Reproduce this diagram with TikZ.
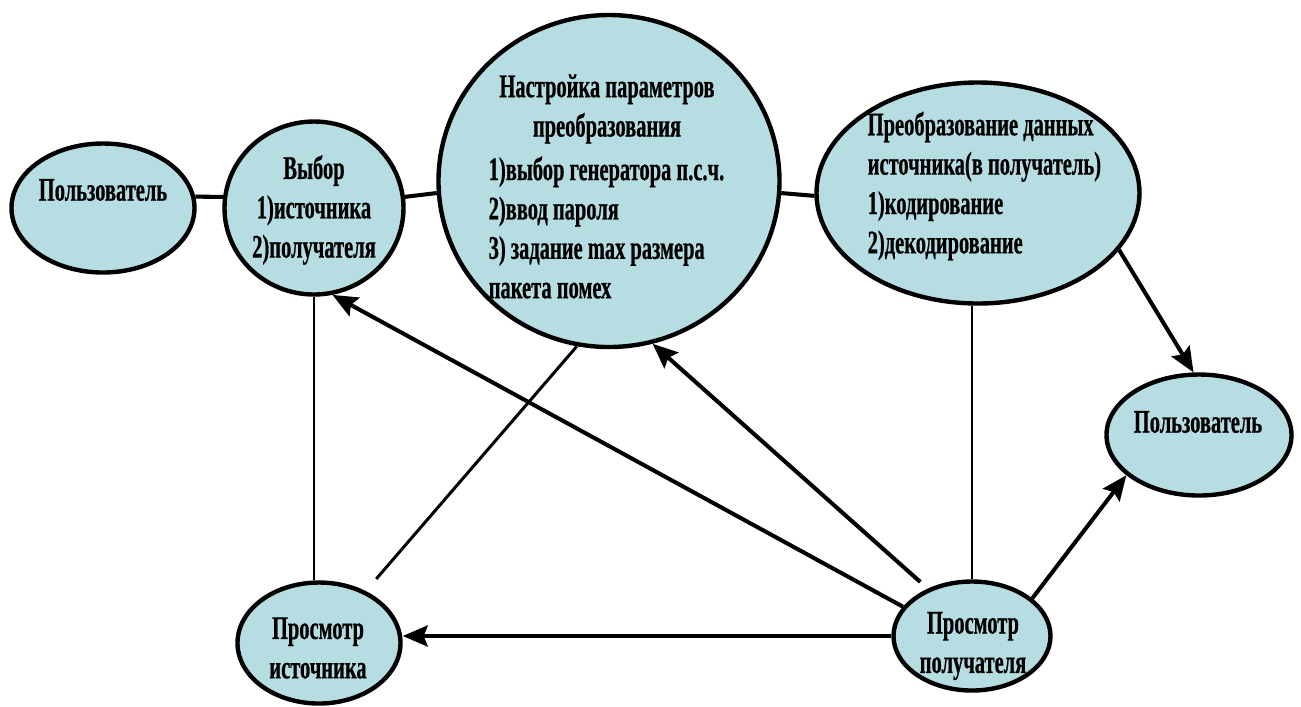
\documentclass[tikz,border=0pt]{standalone}
\usepackage{fontspec}
\setmainfont[FakeStretch=0.62,BoldFeatures={FakeBold=0.6}]{Liberation Serif}
\usepackage{tikz}
\usetikzlibrary{shapes.geometric,arrows.meta}
\definecolor{ovalfill}{RGB}{182,222,226}

\tikzset{
  oval/.style={ellipse, draw=black, line width=1.25pt, fill=ovalfill, inner sep=0pt},
  txt/.style={font=\bfseries\fontsize{9.4}{11.2}\selectfont, align=center, inner sep=0pt},
  thick link/.style={line width=1.15pt},
  mid link/.style={line width=0.85pt},
  thin link/.style={line width=0.6pt},
  arr/.style={line width=1.15pt, -{Stealth[length=0.25cm,width=0.21cm,inset=0.04cm]}}
}

\begin{document}
\begin{tikzpicture}
            \useasboundingbox (0,0) rectangle (13.01,-7.06);

            % Овалы
            \node[oval, minimum width=1.83cm, minimum height=1.29cm] (polz1) at (1.03,-2.08) {};
            \node[oval, minimum width=1.79cm, minimum height=1.73cm] (vybor) at (3.14,-2.08) {};
            \node[oval, minimum width=3.41cm, minimum height=3.32cm] (nastr) at (6.09,-1.81) {};
            \node[oval, minimum width=3.23cm, minimum height=2.21cm] (preobr) at (9.78,-1.93) {};
            \node[oval, minimum width=1.85cm, minimum height=1.21cm] (polz2) at (11.99,-4.35) {};
            \node[oval, minimum width=1.63cm, minimum height=1.21cm] (prosmIst) at (3.19,-6.43) {};
            \node[oval, minimum width=1.57cm, minimum height=1.09cm] (prosmPol) at (9.72,-6.36) {};

            % Подписи в овалах
            \node[txt] (tPolz1) at (1.03,-1.90) {Пользователь};
            \node[txt] (tVybor) at (3.14,-2.10) {Выбор\\1)источника\\2)получателя};
            \node[txt] (tNastr) at (6.07,-1.09) {Настройка параметров\\преобразования};
            \node[txt, align=left, anchor=west] (tNastrList) at (4.88,-2.275)
                {1)выбор генератора п.с.ч.\\2)ввод пароля\\3) задание max размера\\пакета помех};
            \node[txt, align=left, anchor=west] (tPreobr) at (8.67,-1.86)
                {Преобразование данных\\источника(в получатель)\\1)кодирование\\2)декодирование};
            \node[txt] (tPolz2) at (11.98,-4.22) {Пользователь};
            \node[txt] (tProsmIst) at (3.18,-6.48) {Просмотр\\источника};
            \node[txt] (tProsmPol) at (9.73,-6.46) {Просмотр\\получателя};

            % Связи без стрелок
            \draw[thick link] (polz1.7) -- (vybor.173);
            \draw[thick link] (vybor.7) -- (nastr.184.8);
            \draw[thick link] (nastr.-4.8) -- (preobr.181.5);
            \draw[thin link] (vybor.south) -- (vybor.south |- prosmIst.north);
            \draw[thin link] (prosmPol.north) -- (prosmPol.north |- preobr.south);
            \draw[mid link, shorten >=0.16cm] (nastr.-101) -- (prosmIst.48);

            % Стрелки
            \draw[arr] (prosmPol.157) -- (vybor.-78);
            \draw[arr, shorten <=0.1cm] (prosmPol.133) -- (nastr.-75);
            \draw[arr] (prosmPol.west) -- (prosmPol.west -| prosmIst.east);
            \draw[arr] (prosmPol.32) -- (polz2.-151);
            \draw[arr] (preobr.-22) -- (polz2.95);
        \end{tikzpicture}
\end{document}
